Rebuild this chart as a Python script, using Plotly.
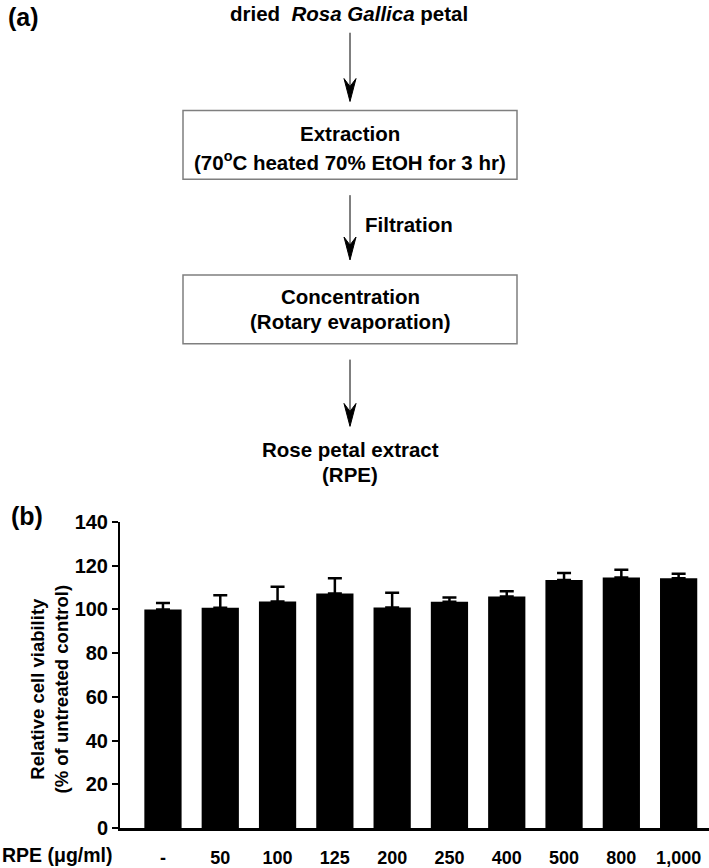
import plotly.graph_objects as go

# panel (b) data
doses = ["-", "50", "100", "125", "200", "250", "400", "500", "800", "1,000"]
viability = [100.0, 100.8, 103.6, 107.3, 100.9, 103.5, 105.9, 113.5, 114.6, 114.3]
sd = [3.0, 5.7, 6.8, 7.0, 6.8, 2.0, 2.4, 3.2, 3.6, 2.0]

FONT = "Arial, Liberation Sans, sans-serif"
W, H = 709, 868

# the captured page comes out slightly squeezed vertically; correct for it
SY, OY = 0.978, 8.2


def fy(y):
    # target screen pixel -> figure pixel
    return (y - OY) / SY


def px(x):
    return x / W


def py(y):
    return 1 - fy(y) / H


fig = go.Figure()
fig.add_trace(go.Bar(
    x=doses, y=viability, width=0.65,
    marker=dict(color="black", line=dict(width=0)),
    error_y=dict(type="data", array=sd, arrayminus=[0] * len(sd),
                 symmetric=False, color="black", thickness=2.5, width=7),
    showlegend=False,
))

fig.update_layout(
    width=W, height=H,
    margin=dict(l=0, r=0, t=0, b=0),
    paper_bgcolor="white", plot_bgcolor="white",
    font=dict(family=FONT, color="black"),
    xaxis=dict(domain=[120 / W, 1], range=[-0.75, 9.53], type="category",
               showline=True, linecolor="black", linewidth=2.5,
               ticks="", showgrid=False, ticklabelstandoff=12,
               tickfont=dict(size=18, family=FONT, weight="bold")),
    yaxis=dict(domain=[py(828), py(521)], range=[0, 140], dtick=20,
               showline=True, linecolor="black", linewidth=2,
               ticks="outside", ticklen=6, tickwidth=2, tickcolor="black",
               showgrid=False, zeroline=False,
               tickfont=dict(size=20, family=FONT, weight="bold")),
)

ann = []


def txt(x, y, s, size=20.5, anchor="center"):
    ann.append(dict(x=px(x), y=py(y), xref="paper", yref="paper", text=s,
                    showarrow=False, xanchor=anchor, yanchor="middle",
                    font=dict(size=size, family=FONT, weight="bold")))


def arrow(x, y0, y1):
    # shaft plus a narrow notched head
    fig.add_shape(type="line", xref="paper", yref="paper",
                  x0=px(x), x1=px(x), y0=py(y0), y1=py(y1 - 12),
                  line=dict(color="black", width=1))
    head = (f"M {px(x - 6)},{py(y1 - 23)} L {px(x)},{py(y1)} "
            f"L {px(x + 6)},{py(y1 - 23)} L {px(x)},{py(y1 - 15)} Z")
    fig.add_shape(type="path", xref="paper", yref="paper", path=head,
                  fillcolor="black", line=dict(color="black", width=1))


txt(6, 14, "(a)", size=25, anchor="left")
txt(9, 515, "(b)", size=25, anchor="left")
txt(349, 11, "dried  <i>Rosa Gallica</i> petal")
arrow(350, 30, 99)
txt(350, 131, "Extraction")
txt(350, 159, "(70<sup>o</sup>C heated 70% EtOH for 3 hr)")
arrow(350, 193, 258)
txt(363, 222, "Filtration", anchor="left")
txt(350, 295, "Concentration")
txt(350, 320, "(Rotary evaporation)")
arrow(350, 358, 425)
txt(350, 448, "Rose petal extract")
txt(350, 473, "(RPE)")
txt(0, 855, "RPE (\u03bcg/ml)", size=19.5, anchor="left")

ann.append(dict(x=px(49), y=py(689), xref="paper", yref="paper", showarrow=False,
                xanchor="center", yanchor="middle",
                text="Relative cell viability<br>(% of untreated control)",
                textangle=-90, font=dict(size=18.5, family=FONT, weight="bold")))

fig.update_layout(annotations=ann)

for top, bot in [(108, 177), (273, 342)]:
    fig.add_shape(type="rect", xref="paper", yref="paper", x0=px(183), x1=px(517),
                  y0=py(top), y1=py(bot), line=dict(color="#7f7f7f", width=1.5))

# pin the graph to the top-left corner of the page
pin = ("document.body.style.margin='0';"
       "var d=document.getElementById('{plot_id}');"
       "d.style.position='fixed';d.style.top='0';d.style.left='0';")
fig.write_html("out.html", config={"displayModeBar": False}, post_script=pin)
